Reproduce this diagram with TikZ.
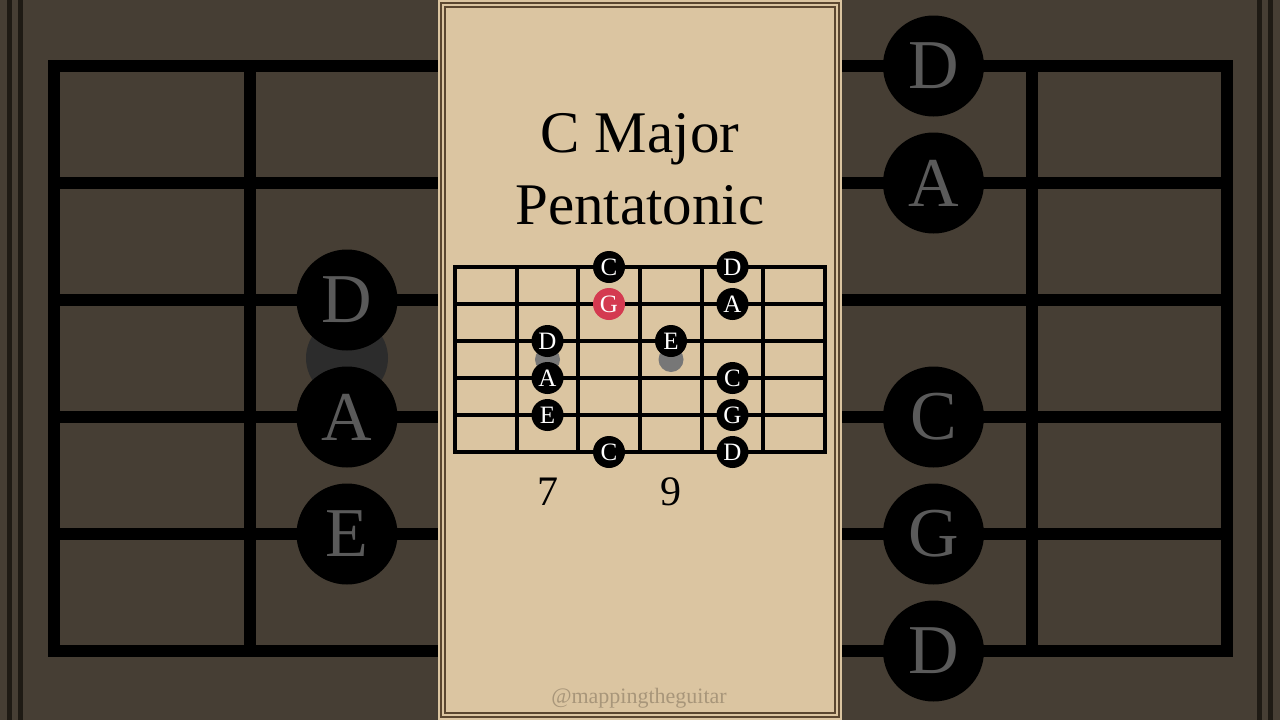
\documentclass[tikz,border=0pt]{standalone}
\usepackage{fontspec}
\setmainfont{Liberation Serif}
\definecolor{bgbrown}{HTML}{463E34}
\definecolor{bgline}{HTML}{1E1A14}
\definecolor{bgtext}{HTML}{5A5A5A}
\definecolor{bgdot}{HTML}{2C2C2C}
\definecolor{parch}{HTML}{DBC5A1}
\definecolor{bord}{HTML}{5A4630}
\definecolor{rootred}{HTML}{D43A50}
\definecolor{markgray}{HTML}{777777}
\definecolor{wmark}{HTML}{A8967A}
\begin{document}
\begin{tikzpicture}[x=1pt,y=-1pt,
  bgfret/.style={line width=12pt, draw=black},
  fretline/.style={line width=4pt, draw=black},
  bgnote/.style={circle, fill=black, minimum size=101pt, inner sep=0pt, text=bgtext, font=\fontsize{70}{70}\selectfont},
  bgmark/.style={circle, fill=bgdot, minimum size=82pt, inner sep=0pt},
  note/.style={circle, fill=black, minimum size=32pt, inner sep=0pt, text=white, font=\fontsize{25}{25}\selectfont},
  rootnote/.style={note, fill=rootred},
  marker/.style={circle, fill=markgray, minimum size=25pt, inner sep=0pt},
  title/.style={anchor=base, font=\fontsize{59}{59}\selectfont, text=black, inner sep=0pt},
  fretnum/.style={anchor=base, font=\fontsize{42}{42}\selectfont, text=black, inner sep=0pt},
  wm/.style={anchor=base, font=\fontsize{22}{22}\selectfont, text=wmark, inner sep=0pt}
]
\useasboundingbox (0,0) rectangle (1280,720);
% background
\fill[bgbrown] (0,0) rectangle (1280,720);
\draw[bgline, line width=5pt] (9.5,0) -- (9.5,720) (20.5,0) -- (20.5,720)
  (1259.5,0) -- (1259.5,720) (1270.5,0) -- (1270.5,720);
% blurred large fretboard behind
\draw[bgfret, line join=miter] (54,66) rectangle (1227,651);
\foreach \x in {249.5,445,640.5,836,1031.5} \draw[bgfret] (\x,66) -- (\x,651);
\foreach \y in {183,300,417,534} \draw[bgfret] (54,\y) -- (1227,\y);
\node[bgmark] (bgm1) at (347,358) {};
\node[bgnote] (bgD1) at (347,300) {D};
\node[bgnote] (bgA1) at (347,417) {A};
\node[bgnote] (bgE1) at (347,534) {E};
\node[bgnote] (bgD2) at (933.5,66) {D};
\node[bgnote] (bgA2) at (933.5,183) {A};
\node[bgnote] (bgC2) at (933.5,417) {C};
\node[bgnote] (bgG2) at (933.5,534) {G};
\node[bgnote] (bgD3) at (933.5,651) {D};
% parchment panel
\fill[parch] (438,0) rectangle (842,720);
\draw[bord, line width=2pt] (441,3) rectangle (839,717);
\draw[bord, line width=1.5pt] (445,7) rectangle (835,713);
% title
\node[title] (t1) at (640,152) {C Major};
\node[title] (t2) at (640,224) {Pentatonic};
% fretboard
\draw[fretline, line join=miter] (455,267) rectangle (825,452);
\foreach \x in {517,578,640,702,763} \draw[fretline] (\x,267) -- (\x,452);
\foreach \y in {304,341,378,415} \draw[fretline] (455,\y) -- (825,\y);
% fret markers
\node[marker] (m7) at (547.5,359.5) {};
\node[marker] (m9) at (671,359.5) {};
% notes
\node[note] (n1a) at (609,267) {C};
\node[note] (n1b) at (732.5,267) {D};
\node[rootnote] (n2a) at (609,304) {G};
\node[note] (n2b) at (732.5,304) {A};
\node[note] (n3a) at (547.5,341) {D};
\node[note] (n3b) at (671,341) {E};
\node[note] (n4a) at (547.5,378) {A};
\node[note] (n4b) at (732.5,378) {C};
\node[note] (n5a) at (547.5,415) {E};
\node[note] (n5b) at (732.5,415) {G};
\node[note] (n6a) at (609,452) {C};
\node[note] (n6b) at (732.5,452) {D};
% fret numbers
\node[fretnum] (f7) at (547.5,505) {7};
\node[fretnum] (f9) at (671,505) {9};
% watermark
\node[wm] (w) at (639,703) {@mappingtheguitar};
\end{tikzpicture}
\end{document}
